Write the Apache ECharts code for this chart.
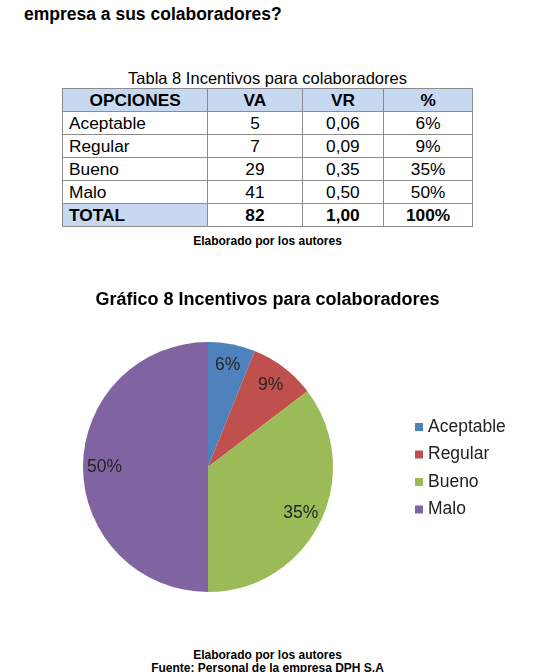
<!DOCTYPE html>
<html>
<head>
<meta charset="utf-8">
<script src="https://cdn.jsdelivr.net/npm/echarts@6/dist/echarts.min.js"></script>
<style>
  body { margin: 0; background: #fff; font-family: "Liberation Sans", Arial, sans-serif; color: #000; }
  #page { position: relative; width: 535px; height: 672px; overflow: hidden; }
  .abs { position: absolute; white-space: nowrap; }
  #heading { left: 24px; top: 4px; font-size: 17.5px; font-weight: bold; }
  #tcaption { left: 0; width: 535px; top: 69px; text-align: center; font-size: 16.5px; }
  #tbl { position: absolute; left: 62px; top: 88px; width: 411px; border-collapse: collapse; font-size: 17.3px; }
  #tbl td { border: 1px solid #8c8c8c; height: 22px; padding: 0; line-height: 20px; text-align: center; }
  #tbl td:first-child { text-align: left; padding-left: 6px; }
  #tbl tr.head td { background: #c6d9f1; font-weight: bold; text-align: center; padding-left: 0; }
  #tbl tr.total td { font-weight: bold; }
  #tbl tr.total td:first-child { background: #c6d9f1; }
  .note { left: 0; width: 535px; text-align: center; font-size: 12px; font-weight: bold; }
  #chart { position: absolute; left: 0; top: 270px; width: 535px; height: 360px; }
</style>
</head>
<body>
<div id="page">
  <div id="heading" class="abs">empresa a sus colaboradores?</div>
  <div id="tcaption" class="abs">Tabla 8 Incentivos para colaboradores</div>
  <table id="tbl"></table>
  <div class="abs note" style="top:234px">Elaborado por los autores</div>
  <div id="chart"></div>
  <div class="abs note" style="top:648px">Elaborado por los autores</div>
  <div class="abs note" style="top:661px">Fuente: Personal de la empresa DPH S.A</div>
</div>
<script>
const headers = ["OPCIONES", "VA", "VR", "%"];
const options = ["Aceptable", "Regular", "Bueno", "Malo"];
const va = [5, 7, 29, 41];
const vr = ["0,06", "0,09", "0,35", "0,50"];
const pct = ["6%", "9%", "35%", "50%"];
const total = ["TOTAL", "82", "1,00", "100%"];
const colors = ["#4f81bd", "#c0504d", "#9bbb59", "#8064a2"];

const tbl = document.getElementById("tbl");
const widths = [141, 97, 83, 90];
function addRow(cells, cls) {
  const tr = document.createElement("tr");
  if (cls) tr.className = cls;
  cells.forEach((c, i) => {
    const td = document.createElement("td");
    td.textContent = c;
    td.style.width = widths[i] + "px";
    tr.appendChild(td);
  });
  tbl.appendChild(tr);
}
addRow(headers, "head");
options.forEach((o, i) => addRow([o, String(va[i]), vr[i], pct[i]]));
addRow(total, "total");

const pieData = options.map((name, i) => ({ name, value: va[i], pct: pct[i], itemStyle: { color: colors[i] } }));

const chart = echarts.init(document.getElementById("chart"));
chart.setOption({
  animation: false,
  title: {
    text: "Gráfico 8 Incentivos para colaboradores",
    left: "center",
    top: 16,
    textStyle: { fontFamily: "Liberation Sans", fontSize: 18, fontWeight: "bold", color: "#000" }
  },
  legend: {
    orient: "vertical",
    left: 415,
    top: 148,
    padding: 0,
    itemWidth: 8,
    itemHeight: 8,
    itemGap: 9.5,
    icon: "rect",
    data: options,
    textStyle: { fontFamily: "Liberation Sans", fontSize: 17.5, color: "#222" }
  },
  series: [
    {
      type: "pie",
      center: [208, 197],
      radius: [0, 125],
      startAngle: 90,
      silent: true,
      label: { show: false },
      labelLine: { show: false },
      data: pieData
    },
    {
      // labels only, set further out than the default inside position
      type: "pie",
      center: [208, 197],
      radius: [76, 125],
      startAngle: 90,
      silent: true,
      itemStyle: { color: "transparent" },
      label: {
        show: true,
        position: "inside",
        formatter: (p) => p.data.pct,
        fontFamily: "Liberation Sans",
        fontSize: 17.5,
        color: "#262626"
      },
      labelLine: { show: false },
      data: pieData.map((d) => ({ name: d.name, value: d.value, pct: d.pct, itemStyle: { color: "transparent" } }))
    }
  ]
});
</script>
</body>
</html>
